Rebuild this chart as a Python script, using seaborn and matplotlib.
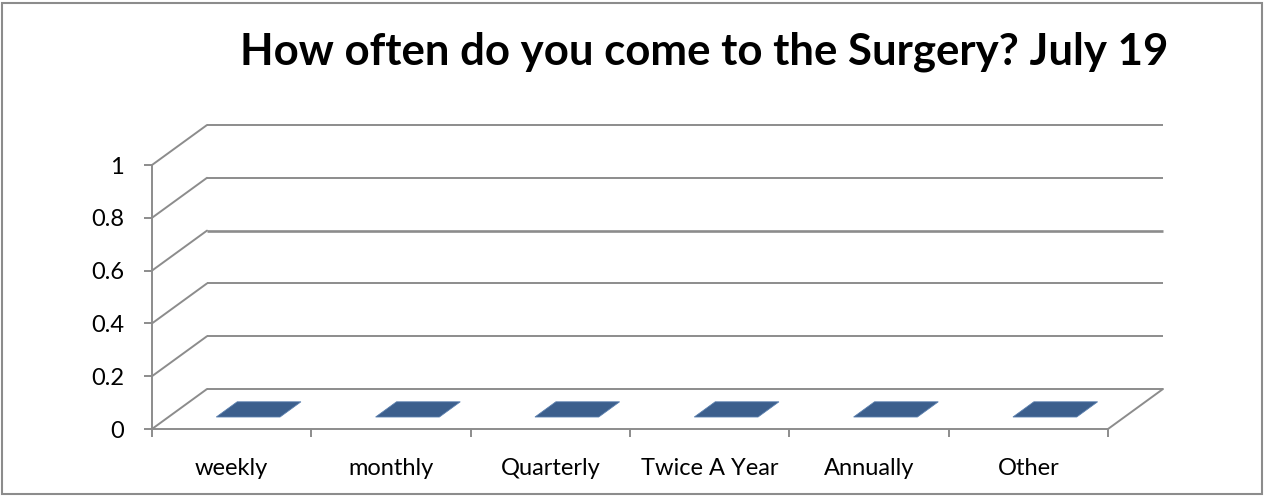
import numpy as np
import matplotlib
matplotlib.use('Agg')
import matplotlib.pyplot as plt
from matplotlib.patches import Polygon, Rectangle
import seaborn as sns

# data
categories = ['weekly', 'monthly', 'Quarterly', 'Twice A Year', 'Annually', 'Other']
values = [0, 0, 0, 0, 0, 0]
y_ticks = [0, 0.2, 0.4, 0.6, 0.8, 1]
y_labels = ['0', '0.2', '0.4', '0.6', '0.8', '1']
title = 'How often do you come to the Surgery? July 19'

sns.set_theme(style='white')
plt.rcParams['font.family'] = ['Lato', 'DejaVu Sans']

W, H = 1265, 497
fig = plt.figure(figsize=(W / 100, H / 100), dpi=100)

# front plot box in pixels, back wall offset
x0, x1 = 152, 1108
y_bot, y_top = 429, 165
off_x, off_y = 55, 40
ax = fig.add_axes([x0 / W, (H - y_bot) / H,
                   (x1 + off_x - x0) / W, (y_bot - y_top + off_y) / H])

n = len(categories)
px_per_cat = (x1 - x0) / n
px_per_val = (y_bot - y_top) / 1.0
dx = off_x / px_per_cat
dy = off_y / px_per_val

sns.barplot(x=list(range(n)), y=values, ax=ax, color='#3c5f8d', native_scale=True)
ax.set_xlim(-0.5, n - 0.5 + dx)
ax.set_ylim(0, 1 + dy)

grid_c = '#8c8c8c'
# back wall gridlines and left wall diagonals
for v in y_ticks:
    lw = 1.9 if v == 0.6 else 1.4
    ax.plot([-0.5 + dx, n - 0.5 + dx], [v + dy, v + dy], color=grid_c, lw=lw,
            solid_capstyle='butt', clip_on=False)
    ax.plot([-0.5, -0.5 + dx], [v, v + dy], color=grid_c, lw=1.4, clip_on=False)
# floor right edge
ax.plot([n - 0.5, n - 0.5 + dx], [0, dy], color=grid_c, lw=1.4, clip_on=False)

# bar tops (flat, value 0)
w = 0.4
d0, d1 = 0.30, 0.68
for i, v in enumerate(values):
    pts = [(i - w / 2 + d0 * dx, v + d0 * dy), (i + w / 2 + d0 * dx, v + d0 * dy),
           (i + w / 2 + d1 * dx, v + d1 * dy), (i - w / 2 + d1 * dx, v + d1 * dy)]
    ax.add_patch(Polygon(pts, closed=True, facecolor='#3c5f8d', edgecolor='#5a7fae',
                         lw=0.6, zorder=3))

# axes styling
for s in ['top', 'right']:
    ax.spines[s].set_visible(False)
ax.spines['left'].set_bounds(0, 1)
ax.spines['bottom'].set_bounds(-0.5, n - 0.5)
for s in ['left', 'bottom']:
    ax.spines[s].set_color(grid_c)
    ax.spines[s].set_linewidth(1.4)

ax.set_yticks(y_ticks)
ax.set_yticklabels(y_labels, fontsize=17, color='black')
ax.set_xticks(np.arange(-0.5, n, 1.0))
ax.set_xticklabels([])
ax.set_xticks(range(n), minor=True)
ax.set_xticklabels(categories, minor=True, fontsize=17, color='black')
ax.tick_params(axis='both', which='major', length=6, width=1.4, color=grid_c,
               direction='out', left=True, bottom=True)
ax.tick_params(axis='y', which='major', pad=14)
ax.tick_params(axis='x', which='minor', length=0, pad=21)
ax.set_xlabel('')
ax.set_ylabel('')
ax.grid(False)

fig.text(704 / W, 1 - 64 / H, title, ha='center', va='baseline', fontsize=31.5,
         fontweight='bold', color='black')

fig.patches.append(Rectangle((2 / W, 3 / H), 1260 / W, 491 / H, transform=fig.transFigure,
                             fill=False, edgecolor='#8c8c8c', lw=1.5))

fig.savefig('out.png', dpi=100)
